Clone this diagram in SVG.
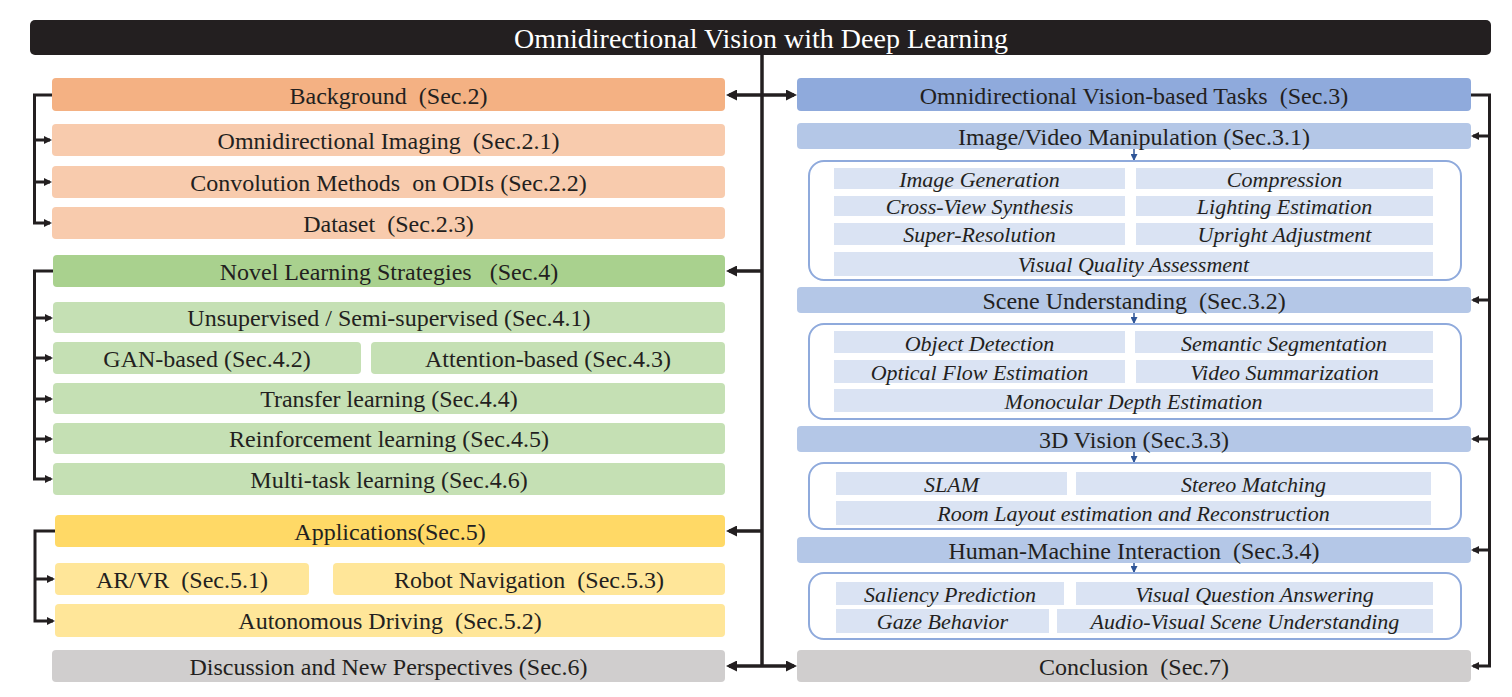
<svg xmlns="http://www.w3.org/2000/svg" width="1512" height="697" viewBox="0 0 1512 697">
<style>
.t{font-family:"Liberation Serif","Times New Roman",serif;font-size:24px;fill:#231F20;text-anchor:middle;white-space:pre}
.i{font-family:"Liberation Serif","Times New Roman",serif;font-size:22px;font-style:italic;fill:#231F20;text-anchor:middle;white-space:pre}
.ttl{font-family:"Liberation Serif","Times New Roman",serif;font-size:28px;fill:#FFFFFF;text-anchor:middle}
.bg{fill:#F4B183}.bgs{fill:#F8CBAD}
.nl{fill:#A9D18E}.nls{fill:#C5E0B4}
.ap{fill:#FFD966}.aps{fill:#FFE699}
.gr{fill:#D0CECE}
.tk{fill:#8FAADC}.tks{fill:#B4C7E7}.cell{fill:#DAE3F3}
.panel{fill:#FFFFFF;stroke:#8FAADC;stroke-width:2}
.ln{fill:none;stroke:#231F20;stroke-width:3.5}
.br{fill:none;stroke:#231F20;stroke-width:3}
.bl{fill:none;stroke:#2F5597;stroke-width:1.5}
</style>
<defs>
<marker id="big" viewBox="0 0 11 11" refX="8" refY="5.5" markerWidth="11" markerHeight="11" markerUnits="userSpaceOnUse" orient="auto-start-reverse"><path d="M0,0 L11,5.5 L0,11 z" fill="#231F20"/></marker>
<marker id="sm" viewBox="0 0 8 8" refX="6" refY="4" markerWidth="8" markerHeight="8" markerUnits="userSpaceOnUse" orient="auto"><path d="M0,0 L8,4 L0,8 z" fill="#231F20"/></marker>
<marker id="blu" viewBox="0 0 7 7" refX="6" refY="3.5" markerWidth="7" markerHeight="7" markerUnits="userSpaceOnUse" orient="auto"><path d="M0,0 L7,3.5 L0,7 z" fill="#2F5597"/></marker>
</defs>

<g id="title">
<rect x="30" y="20" width="1461" height="35" rx="5" fill="#231F20"/>
<text class="ttl" x="761" y="48">Omnidirectional Vision with Deep Learning</text>
</g>

<g id="connectors">
<line class="ln" x1="762" y1="55" x2="762" y2="667"/>
<line class="ln" x1="729" y1="95" x2="794" y2="95" marker-start="url(#big)" marker-end="url(#big)"/>
<line class="ln" x1="762" y1="271" x2="729" y2="271" marker-end="url(#big)"/>
<line class="ln" x1="762" y1="531" x2="729" y2="531" marker-end="url(#big)"/>
<line class="ln" x1="729" y1="666" x2="794" y2="666" marker-start="url(#big)" marker-end="url(#big)"/>

<path class="br" d="M52,95 H34.5 V223 H50" marker-end="url(#sm)"/>
<line class="br" x1="34.5" y1="140" x2="50" y2="140" marker-end="url(#sm)"/>
<line class="br" x1="34.5" y1="182" x2="50" y2="182" marker-end="url(#sm)"/>

<path class="br" d="M53,271 H34.5 V479 H51" marker-end="url(#sm)"/>
<line class="br" x1="34.5" y1="318" x2="51" y2="318" marker-end="url(#sm)"/>
<line class="br" x1="34.5" y1="358" x2="51" y2="358" marker-end="url(#sm)"/>
<line class="br" x1="34.5" y1="399" x2="51" y2="399" marker-end="url(#sm)"/>
<line class="br" x1="34.5" y1="439" x2="51" y2="439" marker-end="url(#sm)"/>

<path class="br" d="M55,531 H35 V621 H53" marker-end="url(#sm)"/>
<line class="br" x1="35" y1="579" x2="53" y2="579" marker-end="url(#sm)"/>

<path class="br" d="M1471,95 H1489.5 V666 H1473" marker-end="url(#sm)"/>
<line class="br" x1="1489.5" y1="136" x2="1473" y2="136" marker-end="url(#sm)"/>
<line class="br" x1="1489.5" y1="300" x2="1473" y2="300" marker-end="url(#sm)"/>
<line class="br" x1="1489.5" y1="439" x2="1473" y2="439" marker-end="url(#sm)"/>
<line class="br" x1="1489.5" y1="550" x2="1473" y2="550" marker-end="url(#sm)"/>

<line class="bl" x1="1134" y1="149" x2="1134" y2="160" marker-end="url(#blu)"/>
<line class="bl" x1="1134" y1="313" x2="1134" y2="323" marker-end="url(#blu)"/>
<line class="bl" x1="1134" y1="452" x2="1134" y2="462" marker-end="url(#blu)"/>
<line class="bl" x1="1134" y1="563" x2="1134" y2="572" marker-end="url(#blu)"/>
</g>

<!-- Left column -->
<g id="background"><rect class="bg" x="52" y="78" width="673" height="33" rx="4"/><text class="t" x="388.5" y="104">Background  (Sec.2)</text></g>
<g id="omni-imaging"><rect class="bgs" x="52" y="124" width="673" height="32" rx="4"/><text class="t" x="388.5" y="149">Omnidirectional Imaging  (Sec.2.1)</text></g>
<g id="convolution"><rect class="bgs" x="52" y="166" width="673" height="32" rx="4"/><text class="t" x="388.5" y="191">Convolution Methods  on ODIs (Sec.2.2)</text></g>
<g id="dataset"><rect class="bgs" x="52" y="207" width="673" height="32" rx="4"/><text class="t" x="388.5" y="232">Dataset  (Sec.2.3)</text></g>

<g id="novel"><rect class="nl" x="53" y="255" width="672" height="32" rx="4"/><text class="t" x="389" y="280">Novel Learning Strategies   (Sec.4)</text></g>
<g id="unsupervised"><rect class="nls" x="53" y="302" width="672" height="31" rx="4"/><text class="t" x="389" y="326">Unsupervised / Semi-supervised (Sec.4.1)</text></g>
<g id="gan"><rect class="nls" x="53" y="342" width="308" height="32" rx="4"/><text class="t" x="207" y="367">GAN-based (Sec.4.2)</text></g>
<g id="attention"><rect class="nls" x="371" y="342" width="354" height="32" rx="4"/><text class="t" x="548" y="367">Attention-based (Sec.4.3)</text></g>
<g id="transfer"><rect class="nls" x="53" y="383" width="672" height="31" rx="4"/><text class="t" x="389" y="407">Transfer learning (Sec.4.4)</text></g>
<g id="reinforcement"><rect class="nls" x="53" y="423" width="672" height="31" rx="4"/><text class="t" x="389" y="447">Reinforcement learning (Sec.4.5)</text></g>
<g id="multitask"><rect class="nls" x="53" y="463" width="672" height="32" rx="4"/><text class="t" x="389" y="488">Multi-task learning (Sec.4.6)</text></g>

<g id="applications"><rect class="ap" x="55" y="515" width="670" height="32" rx="4"/><text class="t" x="390" y="540">Applications(Sec.5)</text></g>
<g id="arvr"><rect class="aps" x="55" y="563" width="254" height="32" rx="4"/><text class="t" x="182" y="588">AR/VR  (Sec.5.1)</text></g>
<g id="robot"><rect class="aps" x="333" y="563" width="392" height="32" rx="4"/><text class="t" x="529" y="588">Robot Navigation  (Sec.5.3)</text></g>
<g id="autonomous"><rect class="aps" x="55" y="604" width="670" height="33" rx="4"/><text class="t" x="390" y="629">Autonomous Driving  (Sec.5.2)</text></g>

<g id="discussion"><rect class="gr" x="52" y="650" width="673" height="32" rx="4"/><text class="t" x="388.5" y="675">Discussion and New Perspectives (Sec.6)</text></g>

<!-- Right column -->
<g id="tasks"><rect class="tk" x="797" y="78" width="674" height="33" rx="4"/><text class="t" x="1134" y="104">Omnidirectional Vision-based Tasks  (Sec.3)</text></g>

<g id="image-video"><rect class="tks" x="797" y="123" width="674" height="26" rx="4"/><text class="t" x="1134" y="145">Image/Video Manipulation (Sec.3.1)</text></g>
<g id="panel-image-video">
<rect class="panel" x="809" y="161" width="652" height="119" rx="15"/>
<rect class="cell" x="834" y="168" width="291" height="21"/><text class="i" x="979.5" y="187">Image Generation</text>
<rect class="cell" x="1136" y="168" width="297" height="21"/><text class="i" x="1284.5" y="187">Compression</text>
<rect class="cell" x="834" y="196" width="291" height="20"/><text class="i" x="979.5" y="214">Cross-View Synthesis</text>
<rect class="cell" x="1136" y="196" width="297" height="20"/><text class="i" x="1284.5" y="214">Lighting Estimation</text>
<rect class="cell" x="834" y="223" width="291" height="22"/><text class="i" x="979.5" y="242">Super-Resolution</text>
<rect class="cell" x="1136" y="223" width="297" height="22"/><text class="i" x="1284.5" y="242">Upright Adjustment</text>
<rect class="cell" x="834" y="252" width="599" height="24"/><text class="i" x="1133.5" y="272">Visual Quality Assessment</text>
</g>

<g id="scene"><rect class="tks" x="797" y="287" width="674" height="26" rx="4"/><text class="t" x="1134" y="309">Scene Understanding  (Sec.3.2)</text></g>
<g id="panel-scene">
<rect class="panel" x="809" y="324" width="652" height="95" rx="15"/>
<rect class="cell" x="834" y="331" width="291" height="22"/><text class="i" x="979.5" y="351">Object Detection</text>
<rect class="cell" x="1135" y="331" width="298" height="22"/><text class="i" x="1284" y="351">Semantic Segmentation</text>
<rect class="cell" x="834" y="360" width="291" height="23"/><text class="i" x="979.5" y="380">Optical Flow Estimation</text>
<rect class="cell" x="1136" y="360" width="297" height="23"/><text class="i" x="1284.5" y="380">Video Summarization</text>
<rect class="cell" x="834" y="389" width="599" height="23"/><text class="i" x="1133.5" y="409">Monocular Depth Estimation</text>
</g>

<g id="vision3d"><rect class="tks" x="797" y="426" width="674" height="26" rx="4"/><text class="t" x="1134" y="448">3D Vision (Sec.3.3)</text></g>
<g id="panel-3d">
<rect class="panel" x="809" y="463" width="652" height="66" rx="15"/>
<rect class="cell" x="836" y="472" width="231" height="23"/><text class="i" x="951.5" y="492">SLAM</text>
<rect class="cell" x="1076" y="472" width="355" height="23"/><text class="i" x="1253.5" y="492">Stereo Matching</text>
<rect class="cell" x="836" y="501" width="595" height="24"/><text class="i" x="1133.5" y="521">Room Layout estimation and Reconstruction</text>
</g>

<g id="hmi"><rect class="tks" x="797" y="537" width="674" height="26" rx="4"/><text class="t" x="1134" y="559">Human-Machine Interaction  (Sec.3.4)</text></g>
<g id="panel-hmi">
<rect class="panel" x="809" y="573" width="652" height="66" rx="15"/>
<rect class="cell" x="836" y="582" width="228" height="23"/><text class="i" x="950" y="602">Saliency Prediction</text>
<rect class="cell" x="1076" y="582" width="357" height="23"/><text class="i" x="1254.5" y="602">Visual Question Answering</text>
<rect class="cell" x="836" y="609" width="213" height="24"/><text class="i" x="942.5" y="629">Gaze Behavior</text>
<rect class="cell" x="1057" y="609" width="376" height="24"/><text class="i" x="1245" y="629">Audio-Visual Scene Understanding</text>
</g>

<g id="conclusion"><rect class="gr" x="797" y="650" width="674" height="32" rx="4"/><text class="t" x="1134" y="675">Conclusion  (Sec.7)</text></g>
</svg>
